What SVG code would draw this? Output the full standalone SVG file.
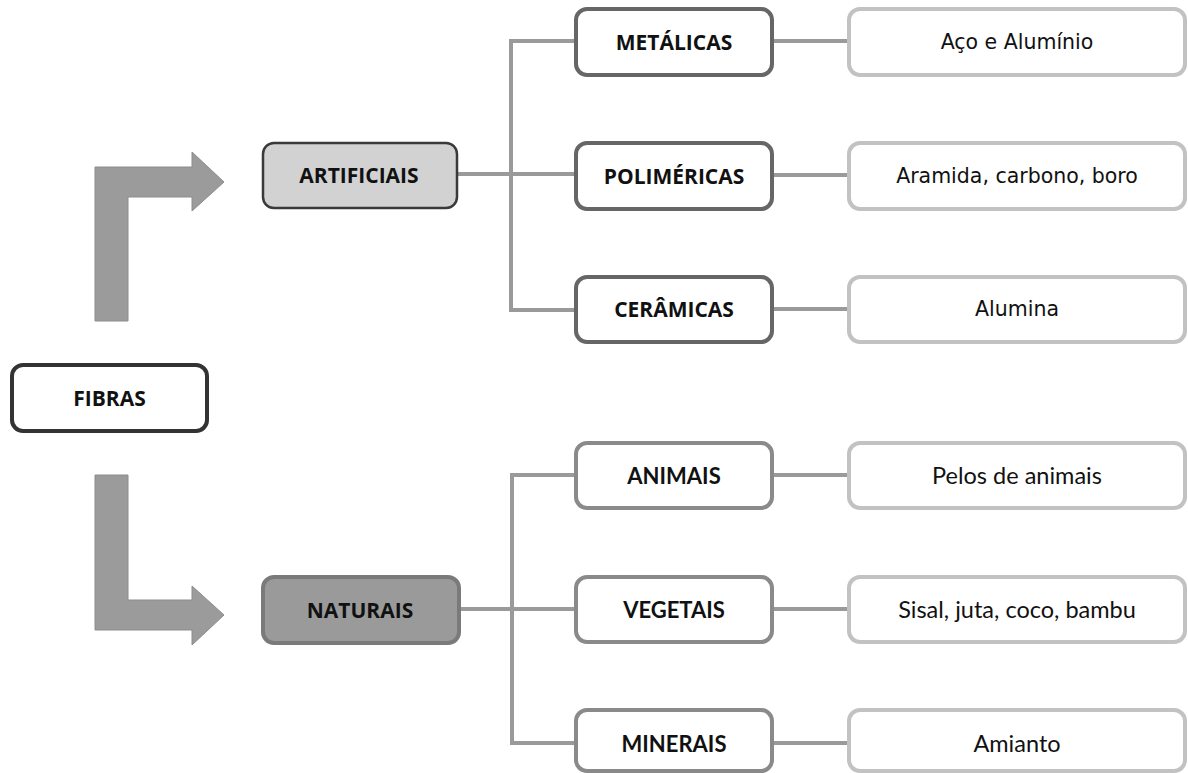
<svg xmlns="http://www.w3.org/2000/svg" width="1188" height="773" viewBox="0 0 1188 773">
  <style>
    .bg { fill: #ffffff; }
    .link { fill: none; stroke: #9a9a9a; stroke-width: 4; }
    .bigarrow { fill: #9b9b9b; stroke: #8c8c8c; stroke-width: 1; }
    .root { fill: #ffffff; stroke: #333333; stroke-width: 4; }
    .artif { fill: #d2d2d2; stroke: #3a3a3a; stroke-width: 2.5; }
    .natur { fill: #9a9a9a; stroke: #7a7a7a; stroke-width: 4; }
    .midTop { fill: #ffffff; stroke: #666666; stroke-width: 4; }
    .midBot { fill: #ffffff; stroke: #8a8a8a; stroke-width: 4; }
    .leaf { fill: #ffffff; stroke: #c2c2c2; stroke-width: 4; }
    .lbl { font-family: "Open Sans", "DejaVu Sans", sans-serif; font-weight: bold; font-size: 21px; fill: #111111; text-anchor: middle; dominant-baseline: central; }
    .lblN { font-family: Lato, "Open Sans", sans-serif; font-weight: bold; font-size: 22px; fill: #111111; text-anchor: middle; dominant-baseline: central; }
    .leafT { font-family: "DejaVu Sans", Verdana, sans-serif; font-size: 20.5px; fill: #111111; text-anchor: middle; dominant-baseline: central; }
    .leafN { font-family: Lato, "Open Sans", sans-serif; font-size: 23.5px; fill: #111111; text-anchor: middle; dominant-baseline: central; }
  </style>

  <rect class="bg" x="0" y="0" width="1188" height="773"/>

  <!-- connectors -->
  <g id="connectors">
    <!-- ARTIFICIAIS branch -->
    <path class="link" d="M457 174 H575"/>
    <path class="link" d="M575 41 H511 V310 H575"/>
    <path class="link" d="M772 41 H848"/>
    <path class="link" d="M772 175 H848"/>
    <path class="link" d="M772 309 H848"/>
    <!-- NATURAIS branch -->
    <path class="link" d="M459 609 H575"/>
    <path class="link" d="M575 475 H512 V743 H575"/>
    <path class="link" d="M772 475 H848"/>
    <path class="link" d="M772 609 H848"/>
    <path class="link" d="M772 743 H848"/>
  </g>

  <!-- bent block arrows from FIBRAS -->
  <g id="arrow-up">
    <polygon class="bigarrow" points="95,321 95,167 192,167 192,152 224,182 192,211 192,197 128,197 128,321"/>
  </g>
  <g id="arrow-down">
    <polygon class="bigarrow" points="95,475 128,475 128,600 192,600 192,586 224,615 192,645 192,630 95,630"/>
  </g>

  <g id="fibras">
    <rect class="root" x="12" y="365" width="195" height="66" rx="11"/>
    <text class="lbl" x="109.5" y="398">FIBRAS</text>
  </g>

  <g id="artificiais">
    <rect class="artif" x="263" y="143" width="194" height="65" rx="11"/>
    <text class="lbl" x="359" y="175">ARTIFICIAIS</text>
  </g>

  <g id="naturais">
    <rect class="natur" x="263" y="577" width="196" height="66" rx="11"/>
    <text class="lbl" x="360" y="610">NATURAIS</text>
  </g>

  <g id="metalicas">
    <rect class="midTop" x="576" y="9" width="196" height="66" rx="11"/>
    <text class="lbl" x="674" y="42">METÁLICAS</text>
  </g>
  <g id="polimericas">
    <rect class="midTop" x="576" y="143" width="196" height="66" rx="11"/>
    <text class="lbl" x="674" y="176">POLIMÉRICAS</text>
  </g>
  <g id="ceramicas">
    <rect class="midTop" x="576" y="277" width="196" height="65" rx="11"/>
    <text class="lbl" x="674" y="309">CERÂMICAS</text>
  </g>

  <g id="animais">
    <rect class="midBot" x="576" y="443" width="196" height="65" rx="11"/>
    <text class="lblN" x="674" y="475">ANIMAIS</text>
  </g>
  <g id="vegetais">
    <rect class="midBot" x="576" y="577" width="196" height="65" rx="11"/>
    <text class="lblN" x="674" y="609">VEGETAIS</text>
  </g>
  <g id="minerais">
    <rect class="midBot" x="576" y="710" width="196" height="61" rx="11"/>
    <text class="lblN" x="674" y="743">MINERAIS</text>
  </g>

  <g id="aco-aluminio">
    <rect class="leaf" x="849" y="9" width="336" height="66" rx="11"/>
    <text class="leafT" x="1017" y="42">Aço e Alumínio</text>
  </g>
  <g id="aramida">
    <rect class="leaf" x="849" y="143" width="336" height="66" rx="11"/>
    <text class="leafT" x="1017" y="176">Aramida, carbono, boro</text>
  </g>
  <g id="alumina">
    <rect class="leaf" x="849" y="277" width="336" height="65" rx="11"/>
    <text class="leafT" x="1017" y="309">Alumina</text>
  </g>

  <g id="pelos">
    <rect class="leaf" x="849" y="443" width="336" height="65" rx="11"/>
    <text class="leafN" x="1017" y="475">Pelos de animais</text>
  </g>
  <g id="sisal">
    <rect class="leaf" x="849" y="577" width="336" height="65" rx="11"/>
    <text class="leafN" x="1017" y="609">Sisal, juta, coco, bambu</text>
  </g>
  <g id="amianto">
    <rect class="leaf" x="849" y="710" width="336" height="61" rx="11"/>
    <text class="leafN" x="1017" y="743">Amianto</text>
  </g>
</svg>
